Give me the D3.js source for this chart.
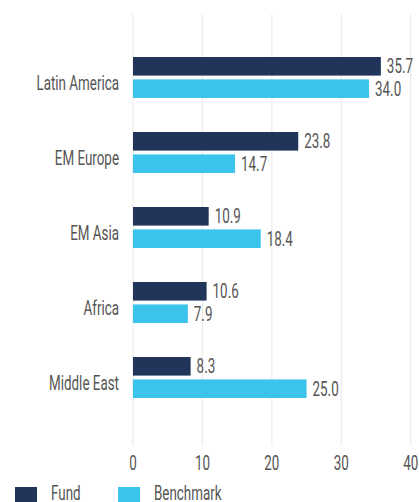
<!DOCTYPE html>
<html>
<head>
<meta charset="utf-8">
<script src="https://cdn.jsdelivr.net/npm/d3@7"></script>
<style>
  html, body { margin: 0; padding: 0; background: #fff; overflow: hidden; }
  svg { display: block; font-family: Roboto, "Liberation Sans", sans-serif; font-weight: 400; }
</style>
</head>
<body>
<div id="chart"></div>
<script>
const regions = ["Latin America", "EM Europe", "EM Asia", "Africa", "Middle East"]
const series = ["Fund", "Benchmark"]
const fund = [35.7, 23.8, 10.9, 10.6, 8.3]
const benchmark = [34.0, 14.7, 18.4, 7.9, 25.0]
const ticks = [0, 10, 20, 30, 40]
const colors = ["#21345a", "#3ac4ec"]

const width = 419
const height = 502
const plotLeft = 133
const plotRight = 410.7
const plotTop = 14
const plotBottom = 446
const squeeze = 0.67 // the original uses a condensed face, so narrow Roboto by hand
const textColor = "#555"

const rows = regions.map((r, i) => ({ region: r, values: [fund[i], benchmark[i]] }))

const svg = d3.select("#chart")
  .append("svg")
  .attr("width", width)
  .attr("height", height)

const x = d3.scaleLinear().domain([0, 40]).range([plotLeft, plotRight])
const y = d3.scaleBand().domain(regions).range([40, 415])
const ySub = d3.scaleBand().domain(series).range([17, 58]).paddingInner(0.17)

// place a narrowed text at (px, py)
const at = (px, py) => `translate(${px},${py}) scale(${squeeze},1)`

// gridlines
svg.append("g")
  .selectAll("line")
  .data(ticks)
  .join("line")
  .attr("x1", d => x(d))
  .attr("x2", d => x(d))
  .attr("y1", plotTop)
  .attr("y2", plotBottom)
  .attr("stroke", "#ebebeb")
  .attr("stroke-width", 1.2)

// x tick labels
svg.append("g")
  .selectAll("text")
  .data(ticks)
  .join("text")
  .attr("transform", d => at(x(d), 470))
  .attr("text-anchor", "middle")
  .attr("font-size", 20)
  .attr("fill", textColor)
  .text(d => d)

// category labels
svg.append("g")
  .selectAll("text")
  .data(regions)
  .join("text")
  .attr("transform", d => at(119, y(d) + y.bandwidth() / 2 + 12))
  .attr("text-anchor", "end")
  .attr("font-size", 20)
  .attr("fill", textColor)
  .text(d => d)

// bars
const groups = svg.append("g")
  .selectAll("g")
  .data(rows)
  .join("g")
  .attr("transform", d => `translate(0,${y(d.region)})`)

groups.selectAll("rect")
  .data(d => d.values.map((v, i) => ({ key: series[i], value: v, i })))
  .join("rect")
  .attr("x", x(0))
  .attr("y", d => ySub(d.key))
  .attr("width", d => x(d.value) - x(0))
  .attr("height", ySub.bandwidth())
  .attr("fill", d => colors[d.i])

groups.selectAll("text")
  .data(d => d.values.map((v, i) => ({ key: series[i], value: v, i })))
  .join("text")
  .attr("transform", d => at(x(d.value) + 6, ySub(d.key) + ySub.bandwidth() / 2 + 7))
  .attr("font-size", 20)
  .attr("fill", textColor)
  .text(d => d.value.toFixed(1))

// legend (runs off the bottom edge, as in the original)
const legend = svg.append("g")
  .selectAll("g")
  .data(series)
  .join("g")
  .attr("transform", (d, i) => `translate(${[15, 118][i]},487)`)

legend.append("rect")
  .attr("width", 22)
  .attr("height", 22)
  .attr("fill", (d, i) => colors[i])

legend.append("text")
  .attr("transform", at(36, 13))
  .attr("font-size", 20)
  .attr("fill", textColor)
  .text(d => d)
</script>
</body>
</html>
